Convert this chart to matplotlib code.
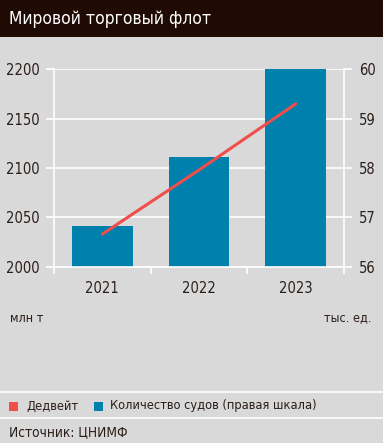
import matplotlib.pyplot as plt
from matplotlib.patches import Rectangle

years = ['2021', '2022', '2023']
deadweight = [2033, 2098, 2165]       # млн т, левая шкала
vessels = [56.82, 58.22, 60.0]        # тыс. ед., правая шкала
left_ticks = [2000, 2050, 2100, 2150, 2200]
right_ticks = [56, 57, 58, 59, 60]

bg = '#d9d9d9'
dark = '#2a1f1a'
red = '#f04e4b'
blue = '#0080ad'
plt.rcParams['font.family'] = ['DejaVu Sans']
plt.rcParams['font.stretch'] = 'condensed'

W, H = 383, 443
fig = plt.figure(figsize=(W / 100, H / 100), dpi=100, facecolor=bg)

def fx(px):
    return px / W

def fy(py):
    return 1 - py / H

# шапка
fig.patches.append(Rectangle((0, fy(37)), 1, 37 / H, transform=fig.transFigure,
                             facecolor='#200a04', edgecolor='none', zorder=0))
fig.text(fx(9), fy(18.5), 'Мировой торговый флот', color='white', fontsize=12.5,
         va='center', ha='left')

rect = [fx(54), fy(266.7), fx(344) - fx(54), (266.7 - 69.3) / H]
ax = fig.add_axes(rect)
ax.set_facecolor(bg)
x = range(len(years))
ax.bar(x, [v - 56 for v in vessels], bottom=56, width=0.63, color=blue, zorder=2)
ax.set_ylim(56, 60)
ax.set_xlim(-0.5, 2.5)
ax.grid(axis='y', color='white', linewidth=1.2, zorder=0)
ax.set_axisbelow(True)
ax.set_xticks(list(x))
ax.set_xticklabels(years)
ax.set_xticks([-0.5, 0.5, 1.5, 2.5], minor=True)
ax.tick_params(axis='x', which='major', length=0, pad=10, labelsize=10.5, labelcolor=dark)
ax.tick_params(axis='x', which='minor', length=5, width=1.2, color='white', direction='out')
ax.spines['top'].set_visible(False)
for s in ['left', 'right', 'bottom']:
    ax.spines[s].set_color('white')
    ax.spines[s].set_linewidth(1.2)

ax2 = ax.twinx()
ax2.plot(list(x), deadweight, color=red, linewidth=2.2, solid_capstyle='round', zorder=3)
ax2.set_ylim(2000, 2200)
for s in ax2.spines.values():
    s.set_visible(False)

# правая шкала у столбцов, левая у линии
ax.yaxis.tick_right()
ax.set_yticks(right_ticks)
ax.tick_params(axis='y', length=6, width=1.2, color='white', labelsize=10.5,
               labelcolor=dark, pad=5)
ax2.yaxis.tick_left()
ax2.set_yticks(left_ticks)
ax2.tick_params(axis='y', length=6, width=1.2, color='white', labelsize=10.5,
                labelcolor=dark, pad=4)

# единицы
fig.text(fx(10), fy(318), 'млн т', color=dark, fontsize=9, va='center', ha='left')
fig.text(fx(371), fy(318), 'тыс. ед.', color=dark, fontsize=9, va='center', ha='right')

# разделители
for py in [392, 418]:
    fig.add_artist(plt.Line2D([0, 1], [fy(py), fy(py)], color='white', linewidth=1.2,
                              transform=fig.transFigure))

# легенда
fig.patches.append(Rectangle((fx(9), fy(410.5)), 9 / W, 9 / H, transform=fig.transFigure,
                             facecolor=red, edgecolor='none'))
fig.text(fx(26), fy(406), 'Дедвейт', color=dark, fontsize=9.2, va='center', ha='left')
fig.patches.append(Rectangle((fx(94), fy(410.5)), 9 / W, 9 / H, transform=fig.transFigure,
                             facecolor=blue, edgecolor='none'))
fig.text(fx(110), fy(406), 'Количество судов (правая шкала)', color=dark, fontsize=9.2,
         va='center', ha='left')

fig.text(fx(9), fy(432), 'Источник: ЦНИМФ', color=dark, fontsize=9.8, va='center', ha='left')

fig.savefig('out.png', dpi=100, facecolor=bg)
